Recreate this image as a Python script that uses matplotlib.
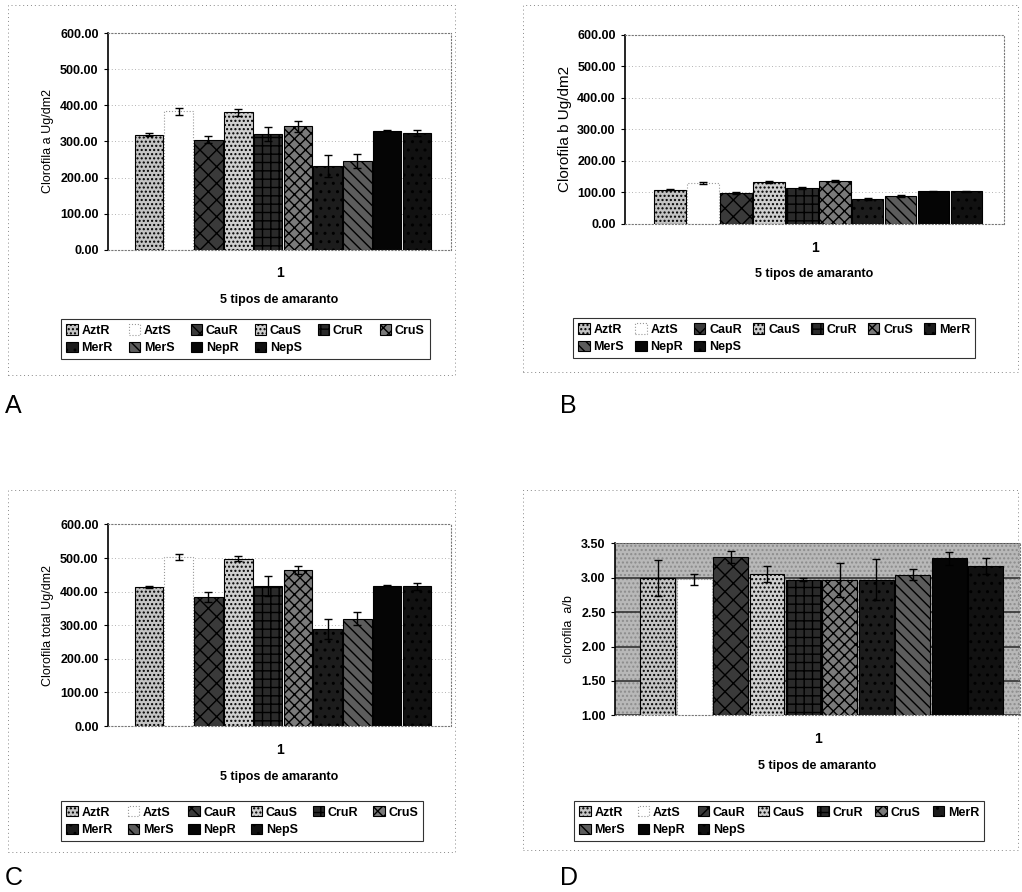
import matplotlib.pyplot as plt
import matplotlib.patches as mpatches
import numpy as np

plt.rcParams['font.family'] = ['Liberation Sans', 'DejaVu Sans']

# ---- data ----
labels = ['AztR', 'AztS', 'CauR', 'CauS', 'CruR', 'CruS', 'MerR', 'MerS', 'NepR', 'NepS']
clor_a = [318, 383, 305, 380, 320, 342, 231, 245, 330, 323]
clor_a_err = [4, 10, 10, 10, 20, 15, 30, 20, 2, 8]
clor_b = [108, 131, 97, 134, 113, 136, 78, 89, 103, 103]
clor_b_err = [2, 3, 3, 3, 3, 4, 3, 4, 2, 2]
clor_t = [414, 503, 384, 498, 416, 464, 290, 320, 418, 416]
clor_t_err = [3, 10, 15, 8, 30, 12, 30, 20, 2, 10]
ratio_ab = [3.00, 2.98, 3.30, 3.05, 2.97, 2.97, 2.97, 3.04, 3.28, 3.17]
ratio_err = [0.26, 0.08, 0.08, 0.12, 0.02, 0.25, 0.30, 0.08, 0.09, 0.12]

category = ['1']
xlabel = '5 tipos de amaranto'

# grey-scale fills that imitate the photocopied Excel patterns
faces = ['#c4c4c4', '#ffffff', '#3a3a3a', '#cfcfcf', '#2a2a2a',
         '#7a7a7a', '#1c1c1c', '#5c5c5c', '#050505', '#111111']
hatches = ['....', None, 'xx', '....', '++', 'xxx', '..', '\\\\\\', None, '..']


def draw_panel(ax, values, errs, ylabel, ylim, yticks, fmt, grey_bg=False, w=0.087):
    n = len(values)
    x = np.arange(n) * w - (n - 1) * w / 2 + 0.01
    if grey_bg:
        ax.set_facecolor('#b8b8b8')
        ax.add_patch(mpatches.Rectangle((0, 0), 1, 1, transform=ax.transAxes,
                                        facecolor='none', edgecolor='#8c8c8c',
                                        hatch='....', lw=0, zorder=0))
        for t in yticks:
            ax.axhline(t, color='#333333', lw=1.2, zorder=0.5)
    else:
        for t in yticks[1:]:
            ax.axhline(t, color='#9a9a9a', lw=0.6, ls=(0, (1, 3)), zorder=0.5)
    for i in range(n):
        ax.bar(x[i], values[i], width=w * 0.96, color=faces[i], hatch=hatches[i],
               edgecolor='black' if i != 1 else '#999999', lw=0.8,
               linestyle='-' if i != 1 else ':', label=labels[i], zorder=2)
        ax.errorbar(x[i], values[i], yerr=errs[i], color='black', lw=1,
                    capsize=3, capthick=1, zorder=3)
    ax.set_xlim(-0.5, 0.5)
    ax.set_ylim(*ylim)
    ax.set_yticks(yticks)
    ax.set_yticklabels([fmt.format(t) for t in yticks], fontsize=9, fontweight='bold')
    ax.set_xticks([0])
    ax.set_xticklabels(category, fontsize=10, fontweight='bold')
    ax.tick_params(axis='x', length=0, pad=12)
    ax.tick_params(axis='y', length=3, pad=4)
    ax.set_ylabel(ylabel, fontsize=9)
    ax.set_xlabel(xlabel, fontsize=9, fontweight='bold', labelpad=10)
    ax.spines['left'].set_color('black')
    ax.spines['left'].set_linewidth(1.2)
    for s in ['top', 'right', 'bottom']:
        ax.spines[s].set_color('#777777')
        ax.spines[s].set_linestyle((0, (1, 2)))
        ax.spines[s].set_linewidth(0.8)


def row_major(items, ncol):
    # matplotlib fills legend columns first; reorder so rows read left to right
    sizes = [len(c) for c in np.array_split(np.arange(len(items)), ncol)]
    nrows = max(sizes)
    out = []
    for j, s in enumerate(sizes):
        for r in range(s):
            out.append(items[r * ncol + j])
    return out


fig = plt.figure(figsize=(10.22, 8.92), dpi=100)

axA = fig.add_axes([0.106, 0.720, 0.335, 0.243])
axB = fig.add_axes([0.612, 0.749, 0.370, 0.212])
axC = fig.add_axes([0.106, 0.186, 0.335, 0.226])
axD = fig.add_axes([0.602, 0.198, 0.396, 0.193])

hundreds = [0, 100, 200, 300, 400, 500, 600]
draw_panel(axA, clor_a, clor_a_err, 'Clorofila a Ug/dm2', (0, 600), hundreds, '{:.2f}')
draw_panel(axB, clor_b, clor_b_err, 'Clorofila b Ug/dm2', (0, 600), hundreds, '{:.2f}')
draw_panel(axC, clor_t, clor_t_err, 'Clorofila total Ug/dm2', (0, 600), hundreds, '{:.2f}')
draw_panel(axD, ratio_ab, ratio_err, 'clorofila  a/b', (1, 3.5),
           [1.0, 1.5, 2.0, 2.5, 3.0, 3.5], '{:.2f}', grey_bg=True, w=0.09)
axB.set_ylabel('Clorofila b Ug/dm2', fontsize=11)

# legends below each panel
leg_spots = [(axA, (0.054, 0.649), 6, 1.3), (axB, (0.555, 0.650), 7, 0.9),
             (axC, (0.054, 0.109), 6, 1.2), (axD, (0.556, 0.109), 7, 1.0)]
for ax, anchor, ncol, cs in leg_spots:
    h, l = ax.get_legend_handles_labels()
    pairs = row_major(list(zip(h, l)), ncol)
    leg = fig.legend([p[0] for p in pairs], [p[1] for p in pairs],
                     loc='upper left', bbox_to_anchor=anchor, ncol=ncol,
                     frameon=True, fancybox=False, edgecolor='black',
                     prop={'size': 9, 'weight': 'bold'}, handlelength=0.9,
                     handleheight=0.9, handletextpad=0.3, columnspacing=cs,
                     borderpad=0.4, labelspacing=0.4)
    leg.get_frame().set_linewidth(0.8)

# dotted outer chart-area frames
for (x0, y0, x1, y1) in [(8, 5, 455, 375), (523, 5, 1018, 372),
                         (8, 490, 455, 852), (523, 490, 1018, 850)]:
    fig.patches.append(mpatches.Rectangle((x0 / 1022, 1 - y1 / 892),
                                          (x1 - x0) / 1022, (y1 - y0) / 892,
                                          transform=fig.transFigure, fill=False,
                                          edgecolor='#888888', lw=0.7,
                                          ls=(0, (1, 3))))

# panel letters
for letter, (px, py) in zip('ABCD', [(5, 418), (560, 418), (5, 890), (560, 890)]):
    fig.text(px / 1022, 1 - py / 892, letter, fontsize=18, ha='left', va='bottom')

plt.savefig('out.png', dpi=100)
